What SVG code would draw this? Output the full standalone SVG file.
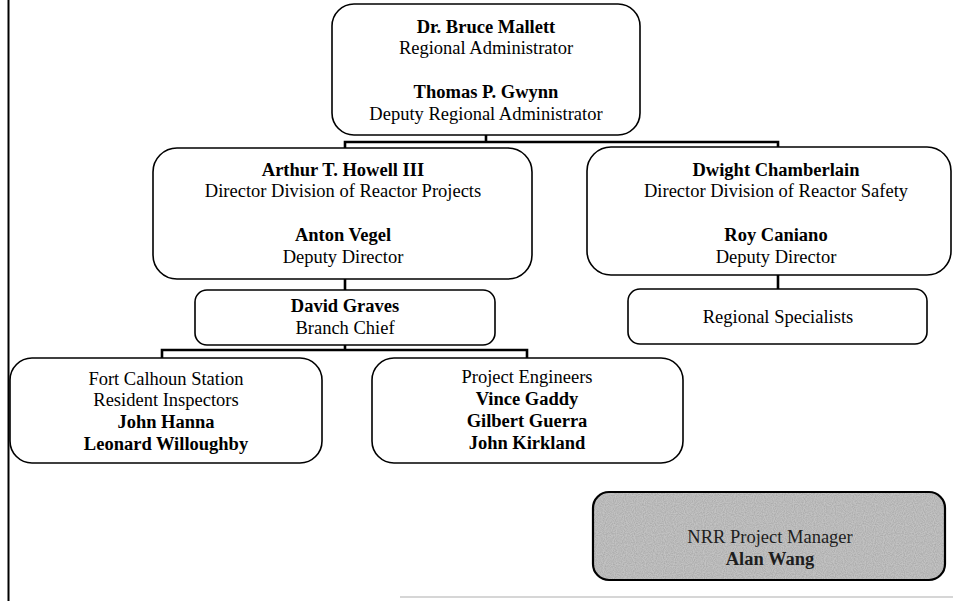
<svg xmlns="http://www.w3.org/2000/svg" width="953" height="601" viewBox="0 0 953 601">
<defs>
<filter id="speckle" x="0" y="0" width="100%" height="100%">
<feTurbulence type="fractalNoise" baseFrequency="0.9" numOctaves="1" seed="3" result="n"/>
<feColorMatrix in="n" type="matrix" values="0 0 0 0 0.35  0 0 0 0 0.35  0 0 0 0 0.35  1.4 0 0 0 -0.45" result="m"/>
<feComposite in="m" in2="SourceGraphic" operator="in"/>
</filter>
</defs>
<style>
.box{fill:#fff;stroke:#000;stroke-width:1.6}
.gbox{fill:#c2c2c2}
.gline{fill:none;stroke:#000;stroke-width:2.2}
.conn{fill:none;stroke:#000;stroke-width:2.6}
text{font-family:"Liberation Serif","Times New Roman",serif;font-size:18.5px;fill:#000;text-anchor:middle}
.b{font-weight:bold}
.g{fill:#1e1e1e}
</style>
<rect width="953" height="601" fill="#fff"/>
<line x1="8.5" y1="0" x2="8.5" y2="601" stroke="#000" stroke-width="2"/>
<line x1="400" y1="597" x2="953" y2="597" stroke="#c8c8c8" stroke-width="1.5"/>
<g id="connectors">
<path class="conn" d="M486 135V142M345 148V142H778V147"/>
<path class="conn" d="M345 279V290M778 275V289"/>
<path class="conn" d="M345 345V350M162 358V350H527V358"/>
</g>
<g id="n-mallett">
<rect class="box" x="332" y="4" width="308" height="131" rx="22"/>
<text x="486" y="33" class="b">Dr. Bruce Mallett</text>
<text x="486" y="54">Regional Administrator</text>
<text x="486" y="98" class="b">Thomas P. Gwynn</text>
<text x="486" y="120">Deputy Regional Administrator</text>
</g>
<g id="n-howell">
<rect class="box" x="153" y="148" width="379" height="131" rx="24"/>
<text x="343" y="176" class="b">Arthur T. Howell III</text>
<text x="343" y="197">Director Division of Reactor Projects</text>
<text x="343" y="241" class="b">Anton Vegel</text>
<text x="343" y="263">Deputy Director</text>
</g>
<g id="n-chamberlain">
<rect class="box" x="587" y="147" width="364" height="128" rx="24"/>
<text x="776" y="176" class="b">Dwight Chamberlain</text>
<text x="776" y="197">Director Division of Reactor Safety</text>
<text x="776" y="241" class="b">Roy Caniano</text>
<text x="776" y="263">Deputy Director</text>
</g>
<g id="n-graves">
<rect class="box" x="195" y="290" width="300" height="55" rx="12"/>
<text x="345" y="312" class="b">David Graves</text>
<text x="345" y="334">Branch Chief</text>
</g>
<g id="n-specialists">
<rect class="box" x="628" y="289" width="299" height="55" rx="12"/>
<text x="778" y="323">Regional Specialists</text>
</g>
<g id="n-fortcalhoun">
<rect class="box" x="10" y="358" width="312" height="105" rx="22"/>
<text x="166" y="385">Fort Calhoun Station</text>
<text x="166" y="406">Resident Inspectors</text>
<text x="166" y="428" class="b">John Hanna</text>
<text x="166" y="450" class="b">Leonard Willoughby</text>
</g>
<g id="n-engineers">
<rect class="box" x="372" y="358" width="311" height="105" rx="22"/>
<text x="527" y="383">Project Engineers</text>
<text x="527" y="405" class="b">Vince Gaddy</text>
<text x="527" y="427" class="b">Gilbert Guerra</text>
<text x="527" y="449" class="b">John Kirkland</text>
</g>
<g id="n-nrr">
<rect class="gbox" x="593" y="492" width="352" height="88" rx="16"/>
<rect x="593" y="492" width="352" height="88" rx="16" fill="#fff" filter="url(#speckle)"/>
<rect class="gline" x="593" y="492" width="352" height="88" rx="16"/>
<text x="770" y="543" class="g">NRR Project Manager</text>
<text x="770" y="565" class="g b">Alan Wang</text>
</g>
</svg>
